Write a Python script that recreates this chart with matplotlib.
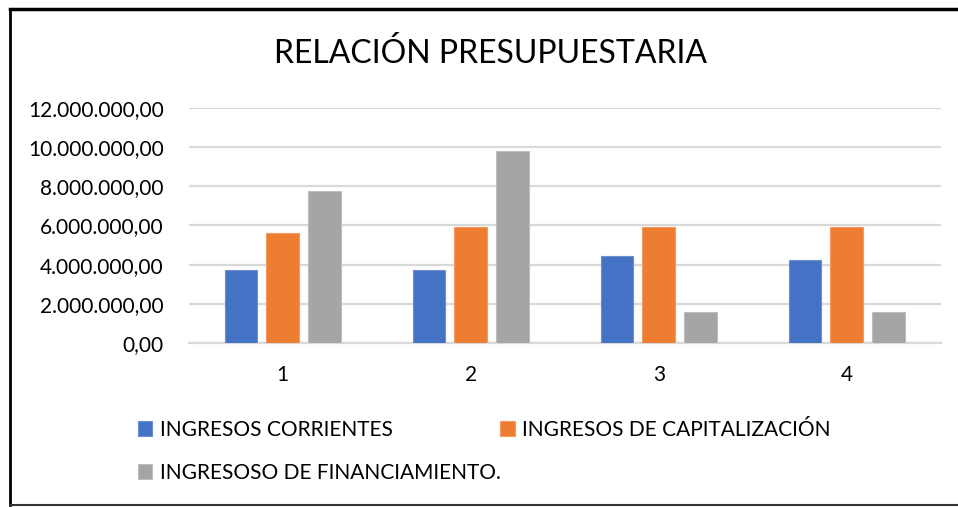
import matplotlib.pyplot as plt
from matplotlib.lines import Line2D
from matplotlib.ticker import FuncFormatter
import numpy as np

plt.rcParams['font.family'] = ['Lato', 'DejaVu Sans']

# datos
categorias = ["1", "2", "3", "4"]
series = ["INGRESOS CORRIENTES", "INGRESOS DE CAPITALIZACIÓN", "INGRESOSO DE FINANCIAMIENTO."]
corrientes = [3750000, 3750000, 4460000, 4260000]
capitalizacion = [5610000, 5940000, 5920000, 5920000]
financiamiento = [7770000, 9820000, 1590000, 1590000]
colores = ["#4472c4", "#ed7d31", "#a5a5a5"]
bordes = ["#6f8fd0", "#f29a60", "#bdbdbd"]

fig = plt.figure(figsize=(9.58, 5.07), dpi=100)
ax = fig.add_axes([0.197, 0.3235, 0.785, 0.4635])

x = np.arange(len(categorias))
ancho = 0.175
paso = 0.222
barras = []
for i, valores in enumerate([corrientes, capitalizacion, financiamiento]):
    b = ax.bar(x + (i - 1) * paso, valores, ancho, color=colores[i],
               edgecolor=bordes[i], linewidth=0.8, label=series[i], zorder=3)
    barras.append(b)

ax.set_xlim(-0.5, 3.5)
ax.set_ylim(0, 12000000)
ax.set_yticks(np.arange(0, 12000001, 2000000))
ax.yaxis.set_major_formatter(FuncFormatter(
    lambda v, p: f"{v:,.2f}".replace(",", "X").replace(".", ",").replace("X", ".")))
ax.set_xticks(x)
ax.set_xticklabels(categorias)
ax.tick_params(axis="both", length=0, labelsize=15, colors="#000000")
ax.tick_params(axis="x", pad=16)
ax.tick_params(axis="y", pad=18)
ax.grid(axis="y", color="#d9d9d9", linewidth=1.6, zorder=0)
for s in ["top", "right", "left"]:
    ax.spines[s].set_visible(False)
ax.spines["bottom"].set_color("#d9d9d9")
ax.spines["bottom"].set_linewidth(1.6)

fig.text(0.512, 0.895, "RELACIÓN PRESUPUESTARIA", ha="center", va="center", fontsize=23)

# leyenda (orden para llenar por filas)
fig.legend([barras[0], barras[2], barras[1]], [series[0], series[2], series[1]],
           ncol=2, loc="upper left", bbox_to_anchor=(0.135, 0.188), frameon=False,
           fontsize=15, handlelength=0.7, handleheight=0.7, handletextpad=0.35,
           columnspacing=0.0, labelspacing=1.1, borderaxespad=0)

# marco
fig.add_artist(Line2D([0.0105, 0.0105], [0.003, 0.982], color="#000000", linewidth=2))
fig.add_artist(Line2D([0.0105, 1.0], [0.982, 0.982], color="#000000", linewidth=2.5))
fig.add_artist(Line2D([0.0105, 1.0], [0.003, 0.003], color="#333333", linewidth=1.5))

fig.savefig("out.png", dpi=100)
